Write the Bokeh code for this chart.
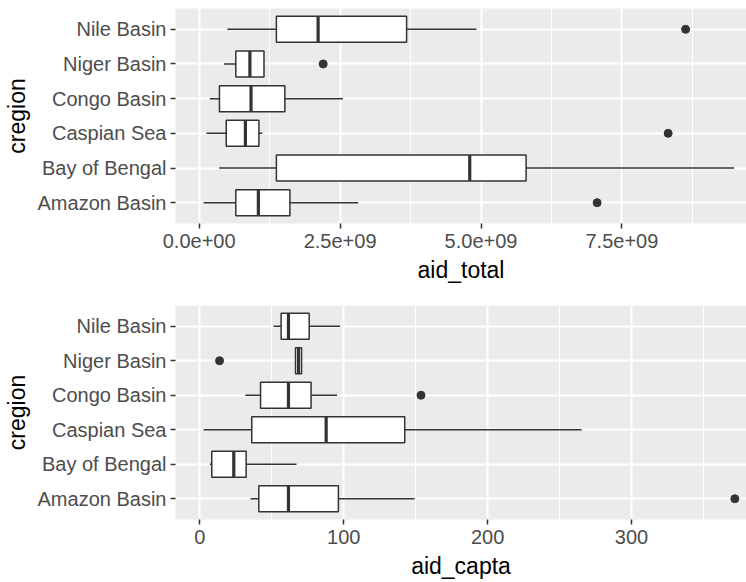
from bokeh.plotting import figure
from bokeh.layouts import column
from bokeh.models import FactorRange, Range1d, FixedTicker, ColumnDataSource
from bokeh.transform import dodge
from bokeh.embed import file_html
from bokeh.resources import INLINE

# categories (bottom to top)
regions = ["Amazon Basin", "Bay of Bengal", "Caspian Sea", "Congo Basin", "Niger Basin", "Nile Basin"]

# aid_total box statistics
tot_low = [0.076e9, 0.355e9, 0.13e9, 0.19e9, 0.44e9, 0.50e9]
tot_q1 = [0.65e9, 1.37e9, 0.48e9, 0.36e9, 0.65e9, 1.37e9]
tot_med = [1.05e9, 4.80e9, 0.82e9, 0.92e9, 0.90e9, 2.11e9]
tot_q3 = [1.61e9, 5.80e9, 1.06e9, 1.52e9, 1.15e9, 3.68e9]
tot_high = [2.82e9, 9.49e9, 1.12e9, 2.55e9, 1.15e9, 4.92e9]
tot_out_region = ["Amazon Basin", "Caspian Sea", "Niger Basin", "Nile Basin"]
tot_out_value = [7.06e9, 8.32e9, 2.20e9, 8.63e9]
tot_ticks = [0, 2.5e9, 5.0e9, 7.5e9]
tot_minor = [1.25e9, 3.75e9, 6.25e9, 8.75e9]
tot_tick_labels = ["0.0e+00", "2.5e+09", "5.0e+09", "7.5e+09"]
tot_range = [-0.42e9, 9.71e9]

# aid_capta box statistics
cap_low = [35.2, 7.0, 2.6, 31.7, 66.5, 51.2]
cap_q1 = [41.0, 8.3, 36.1, 42.2, 66.5, 56.5]
cap_med = [61.6, 23.6, 87.8, 61.6, 68.6, 61.6]
cap_q3 = [96.3, 32.2, 142.4, 77.3, 70.7, 76.0]
cap_high = [149.3, 67.2, 265.3, 95.4, 70.7, 97.5]
cap_out_region = ["Amazon Basin", "Congo Basin", "Niger Basin"]
cap_out_value = [371.8, 153.7, 13.7]
cap_ticks = [0, 100, 200, 300]
cap_minor = [50, 150, 250, 350]
cap_tick_labels = ["0", "100", "200", "300"]
cap_range = [-16.9, 379.9]

FONT = "Liberation Sans"
DARK = "#333333"


def panel(low, q1, med, q3, high, out_r, out_v, ticks, minor, labels, xr, xlabel,
          height, b_top, b_bottom):
    p = figure(width=746, height=height, output_backend="svg", toolbar_location=None,
               x_range=Range1d(*xr),
               y_range=FactorRange(factors=regions, range_padding=0.1,
                                   range_padding_units="absolute"),
               min_border_left=175, min_border_right=0,
               min_border_top=b_top, min_border_bottom=b_bottom)
    p.background_fill_color = "#EBEBEB"
    p.border_fill_color = "white"
    p.outline_line_color = None

    src = ColumnDataSource(dict(region=regions, low=low, q1=q1, med=med, q3=q3, high=high))
    p.segment(x0="low", x1="q1", y0="region", y1="region", source=src,
              line_color=DARK, line_width=1.5)
    p.segment(x0="q3", x1="high", y0="region", y1="region", source=src,
              line_color=DARK, line_width=1.5)
    p.hbar(y="region", left="q1", right="q3", height=0.75, source=src,
           fill_color="white", line_color=DARK, line_width=1.5)
    p.segment(x0="med", x1="med",
              y0=dodge("region", -0.375, range=p.y_range),
              y1=dodge("region", 0.375, range=p.y_range),
              source=src, line_color=DARK, line_width=3.2)
    p.scatter(x=out_v, y=out_r, size=8, fill_color=DARK, line_color=DARK)

    p.xaxis.ticker = FixedTicker(ticks=ticks, minor_ticks=minor)
    p.xaxis.major_label_overrides = {t: l for t, l in zip(ticks, labels)}
    p.xaxis.axis_label = xlabel
    p.yaxis.axis_label = "cregion"

    for ax in (p.xaxis[0], p.yaxis[0]):
        ax.axis_line_color = None
        ax.major_tick_line_color = DARK
        ax.major_tick_line_width = 1.5
        ax.major_tick_out = 5
        ax.major_tick_in = 0
        ax.minor_tick_line_color = None
        ax.major_label_text_color = "#4D4D4D"
        ax.major_label_text_font = FONT
        ax.major_label_text_font_size = "20px"
        ax.major_label_standoff = 4
        ax.axis_label_text_font = FONT
        ax.axis_label_text_font_size = "23px"
        ax.axis_label_text_font_style = "normal"
        ax.axis_label_text_color = "black"
        ax.axis_label_standoff = 5
    p.xaxis.major_label_standoff = 5
    p.xaxis.axis_label_standoff = 6

    p.xgrid.grid_line_color = "white"
    p.xgrid.grid_line_width = 2
    p.xgrid.minor_grid_line_color = "white"
    p.xgrid.minor_grid_line_width = 1
    p.ygrid.grid_line_color = "white"
    p.ygrid.grid_line_width = 2
    return p


p1 = panel(tot_low, tot_q1, tot_med, tot_q3, tot_high, tot_out_region, tot_out_value,
           tot_ticks, tot_minor, tot_tick_labels, tot_range, "aid_total", 297, 8, 74)
p2 = panel(cap_low, cap_q1, cap_med, cap_q3, cap_high, cap_out_region, cap_out_value,
           cap_ticks, cap_minor, cap_tick_labels, cap_range, "aid_capta", 285, 8, 63)

layout = column(p1, p2, spacing=0)
open("out.html", "w").write(file_html(layout, INLINE))
